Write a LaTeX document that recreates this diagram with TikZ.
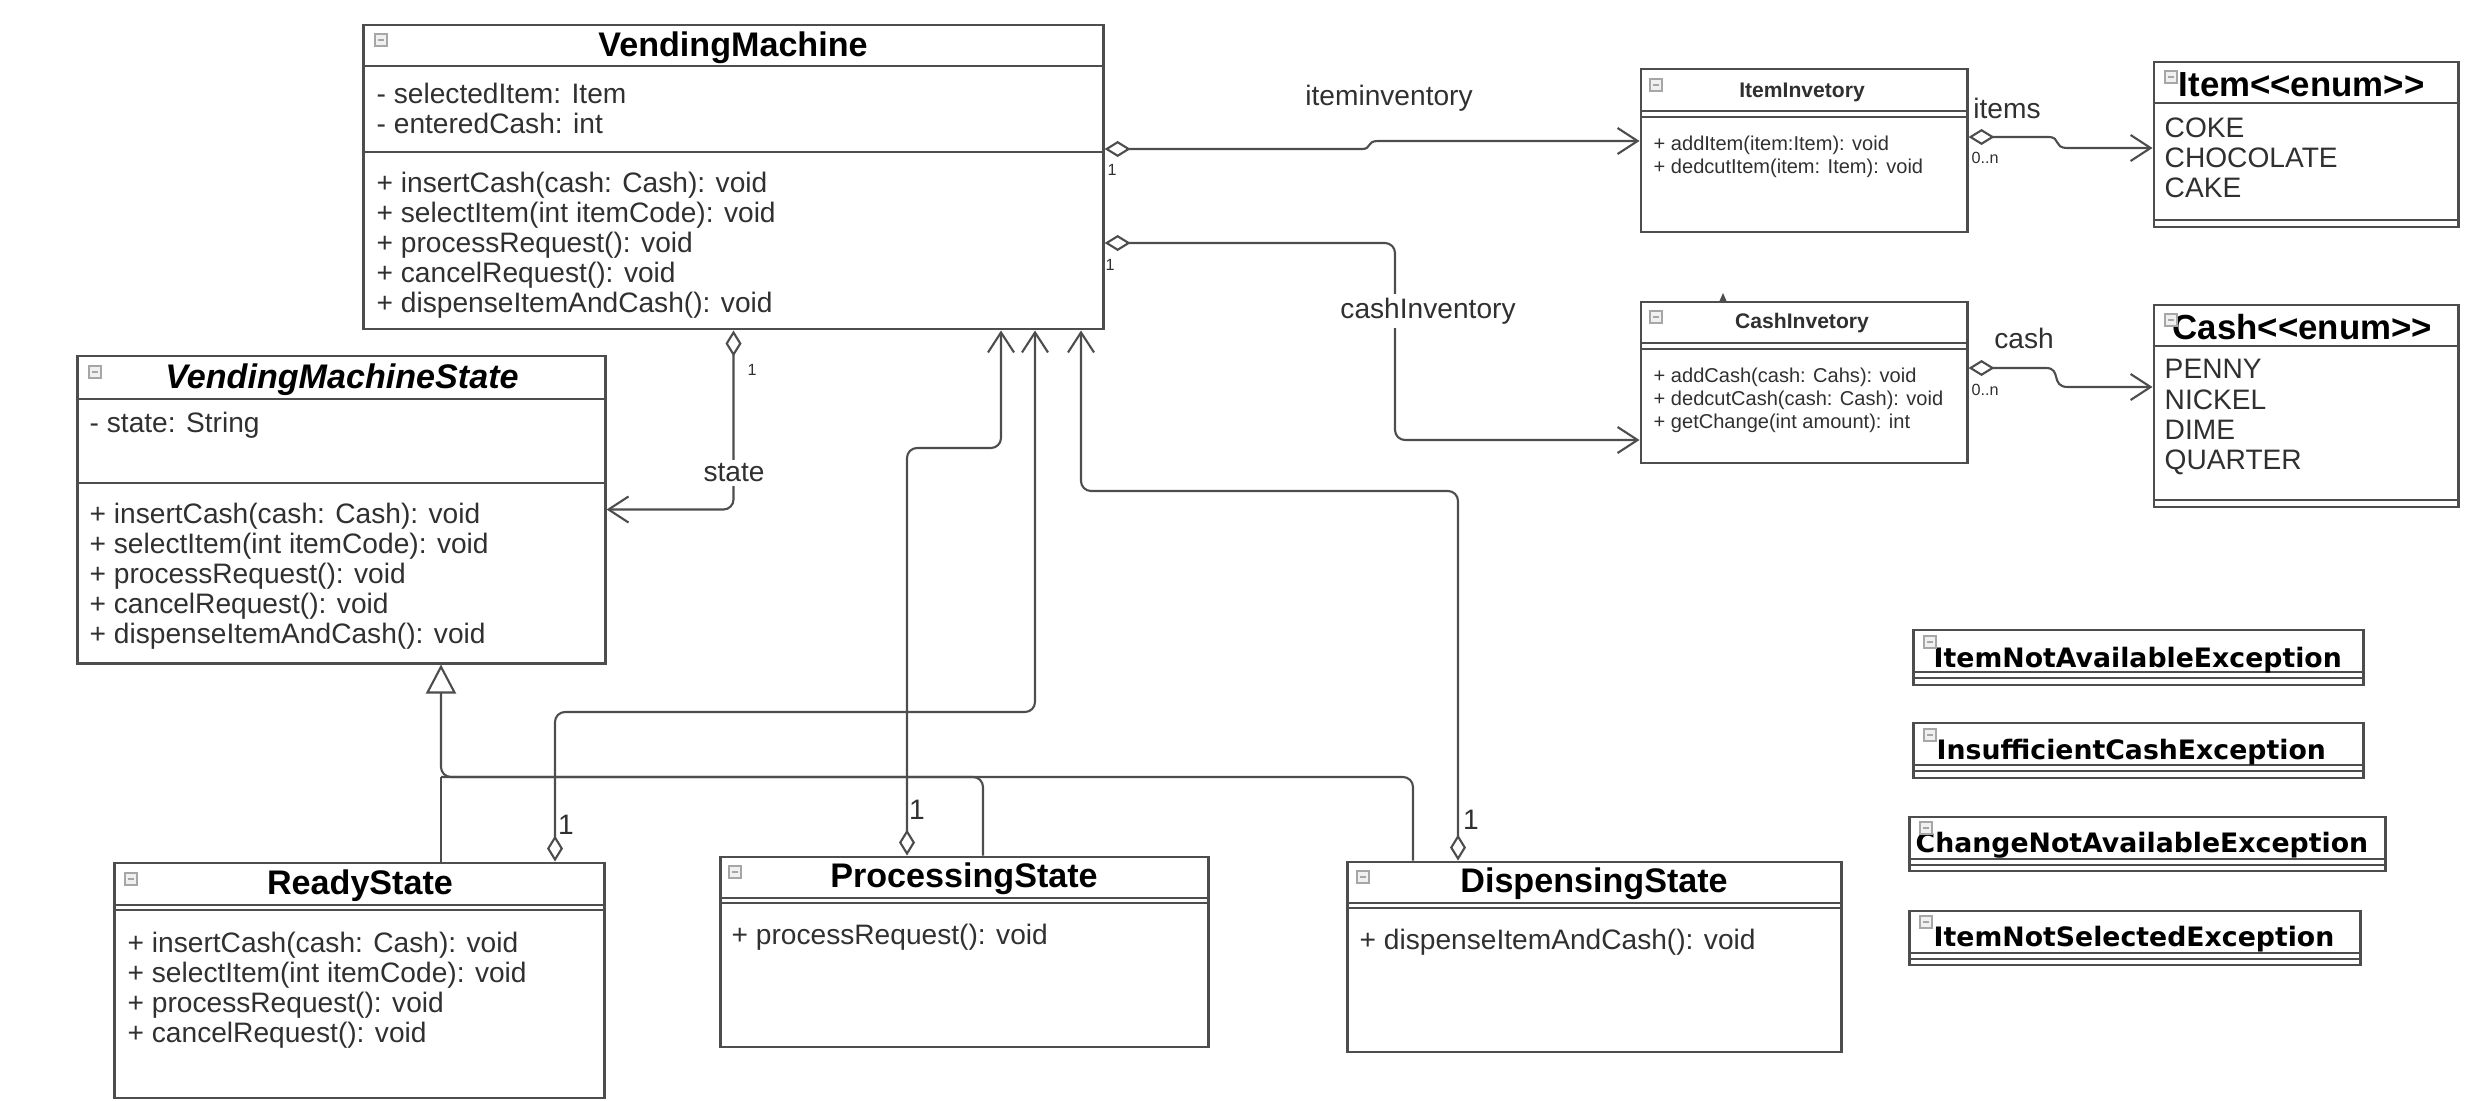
\documentclass[tikz,border=0pt]{standalone}
\usepackage{fontspec}
\setmainfont{Liberation Sans}
\newfontfamily\excfont{DejaVu Sans}
\usetikzlibrary{arrows.meta}
\definecolor{umlline}{HTML}{4D4D4D}
\definecolor{umltext}{HTML}{303030}

\begin{document}
\begin{tikzpicture}[x=0.01cm, y=-0.01cm,
  classbox/.style = {draw=umlline, line width=0.8pt, fill=white, inner sep=0pt},
  compline/.style = {draw=umlline, line width=0.7pt},
  classname/.style = {inner sep=0pt, font=\bfseries\fontsize{9.7}{11}\selectfont},
  smallname/.style = {inner sep=0pt, text=umltext, font=\bfseries\fontsize{6}{7}\selectfont},
  enumname/.style = {inner sep=0pt, anchor=west, font=\bfseries\fontsize{9.9}{11}\selectfont},
  members/.style = {anchor=west, align=left, inner sep=0pt, text=umltext,
    font=\fontsize{8}{8.54}\selectfont},
  smallmembers/.style = {members, font=\fontsize{5.7}{6.45}\selectfont},
  lbl/.style = {inner sep=1pt, text=umltext, font=\fontsize{8}{9}\selectfont},
  mult/.style = {inner sep=0pt, text=umltext, font=\fontsize{4.6}{5}\selectfont},
  bigmult/.style = {mult, font=\fontsize{8}{9}\selectfont},
  assoc/.style = {draw=umlline, line width=0.6pt, rounded corners=0.1cm},
  agg/.style = {assoc, {Diamond[open, length=0.26cm, width=0.16cm]}-{Straight Barb[length=0.2cm, width=0.26cm]}},
  gen/.style = {assoc, -{Triangle[open, length=0.29cm, width=0.3cm, fill=white]}},
  collapsebox/.style = {draw=gray!70, fill=gray!12, line width=0.4pt, minimum size=0.12cm,
    inner sep=0pt, path picture={\draw[gray!70, line width=0.5pt]
      ([xshift=0.03cm]path picture bounding box.west) -- ([xshift=-0.03cm]path picture bounding box.east);}},
  excname/.style = {inner sep=0pt, anchor=base west, font=\excfont\bfseries\fontsize{7.6}{8}\selectfont}]
  \useasboundingbox (0,0) rectangle (2482,1100);

  % VendingMachine
  \node[classbox, minimum width=7.39cm, minimum height=3.04cm] (vm) at (733.5,177) {};
  \draw[compline] (vm.west |- 0,66) -- (vm.east |- 0,66);
  \draw[compline] (vm.west |- 0,152) -- (vm.east |- 0,152);
  \node[collapsebox] (vm-icon) at (381,40) {};
  \node[classname] (vm-name) at (733,48) {VendingMachine};
  \node[members] (vm-attr) at (376,108) {- selectedItem: Item\\- enteredCash: int};
  \node[members] (vm-ops) at (376,245) {+ insertCash(cash: Cash): void\\+ selectItem(int itemCode): void\\+ processRequest(): void\\+ cancelRequest(): void\\+ dispenseItemAndCash(): void};

  % VendingMachineState
  \node[classbox, minimum width=5.27cm, minimum height=3.07cm] (vms) at (341.5,509.5) {};
  \draw[compline] (vms.west |- 0,399) -- (vms.east |- 0,399);
  \draw[compline] (vms.west |- 0,483) -- (vms.east |- 0,483);
  \node[collapsebox] (vms-icon) at (95,372) {};
  \node[classname, font=\bfseries\itshape\fontsize{9.7}{11}\selectfont] (vms-name) at (342,380) {VendingMachineState};
  \node[members] (vms-attr) at (89,425) {- state: String};
  \node[members] (vms-ops) at (89,576) {+ insertCash(cash: Cash): void\\+ selectItem(int itemCode): void\\+ processRequest(): void\\+ cancelRequest(): void\\+ dispenseItemAndCash(): void};

  % ReadyState
  \node[classbox, minimum width=4.89cm, minimum height=2.35cm] (ready) at (359.5,980.5) {};
  \draw[compline] (ready.west |- 0,905) -- (ready.east |- 0,905);
  \draw[compline] (ready.west |- 0,910) -- (ready.east |- 0,910);
  \node[collapsebox] (ready-icon) at (131,879) {};
  \node[classname] (ready-name) at (360,886) {ReadyState};
  \node[members] (ready-ops) at (127,990) {+ insertCash(cash: Cash): void\\+ selectItem(int itemCode): void\\+ processRequest(): void\\+ cancelRequest(): void};

  % ProcessingState
  \node[classbox, minimum width=4.87cm, minimum height=1.90cm] (proc) at (964.5,952) {};
  \draw[compline] (proc.west |- 0,898) -- (proc.east |- 0,898);
  \draw[compline] (proc.west |- 0,903) -- (proc.east |- 0,903);
  \node[collapsebox] (proc-icon) at (735,872) {};
  \node[classname] (proc-name) at (964,879) {ProcessingState};
  \node[members] (proc-ops) at (731,937) {+ processRequest(): void};

  % DispensingState
  \node[classbox, minimum width=4.93cm, minimum height=1.90cm] (disp) at (1594.5,957) {};
  \draw[compline] (disp.west |- 0,903) -- (disp.east |- 0,903);
  \draw[compline] (disp.west |- 0,908) -- (disp.east |- 0,908);
  \node[collapsebox] (disp-icon) at (1363,877) {};
  \node[classname] (disp-name) at (1594,884) {DispensingState};
  \node[members] (disp-ops) at (1359,942) {+ dispenseItemAndCash(): void};

  % inventories
  \node[classbox, minimum width=3.26cm, minimum height=1.63cm] (iinv) at (1804,150.5) {};
  \draw[compline] (iinv.west |- 0,111) -- (iinv.east |- 0,111);
  \draw[compline] (iinv.west |- 0,117) -- (iinv.east |- 0,117);
  \node[collapsebox] (iinv-icon) at (1656,85) {};
  \node[smallname] (iinv-name) at (1802,92) {ItemInvetory};
  \node[smallmembers] (iinv-ops) at (1653,157) {+ addItem(item:Item): void\\+ dedcutItem(item: Item): void};

  \node[classbox, minimum width=3.26cm, minimum height=1.61cm] (cinv) at (1804,382.5) {};
  \draw[compline] (cinv.west |- 0,343) -- (cinv.east |- 0,343);
  \draw[compline] (cinv.west |- 0,349) -- (cinv.east |- 0,349);
  \node[collapsebox] (cinv-icon) at (1656,317) {};
  \node[smallname] (cinv-name) at (1802,323) {CashInvetory};
  \node[smallmembers, font=\fontsize{5.7}{6.55}\selectfont] (cinv-ops) at (1653,400) {+ addCash(cash: Cahs): void\\+ dedcutCash(cash: Cash): void\\+ getChange(int amount): int};
  \fill[umlline] (1719,302) -- (1723,293) -- (1727,302) -- cycle;

  % enums
  \node[classbox, minimum width=3.04cm, minimum height=1.65cm] (itemenum) at (2306,144.5) {};
  \draw[compline] (itemenum.west |- 0,103) -- (itemenum.east |- 0,103);
  \draw[compline] (itemenum.west |- 0,220) -- (itemenum.east |- 0,220);
  \node[enumname] (itemenum-name) at (2178,85) {Item<\kern0pt<enum>\kern0pt>};
  \node[collapsebox] (itemenum-icon) at (2171,77) {};
  \node[members] (itemenum-vals) at (2164,158) {COKE\\CHOCOLATE\\CAKE};

  \node[classbox, minimum width=3.04cm, minimum height=2.02cm] (cashenum) at (2306,406) {};
  \draw[compline] (cashenum.west |- 0,346) -- (cashenum.east |- 0,346);
  \draw[compline] (cashenum.west |- 0,500) -- (cashenum.east |- 0,500);
  \node[enumname] (cashenum-name) at (2172,327) {Cash<\kern0pt<enum>\kern0pt>};
  \node[collapsebox] (cashenum-icon) at (2171,320) {};
  \node[members] (cashenum-vals) at (2164,417) {PENNY\\NICKEL\\DIME\\QUARTER};

  % exceptions
  \node[classbox, minimum width=4.49cm, minimum height=0.55cm] (exc1) at (2138.5,657.5) {};
  \draw[compline] (exc1.west |- 0,672) -- (exc1.east |- 0,672);
  \draw[compline] (exc1.west |- 0,678) -- (exc1.east |- 0,678);
  \node[excname] (exc1-name) at (1933,667) {ItemNotAvailableException};
  \node[collapsebox] (exc1-icon) at (1930,642) {};

  \node[classbox, minimum width=4.49cm, minimum height=0.55cm] (exc2) at (2138.5,750.5) {};
  \draw[compline] (exc2.west |- 0,765) -- (exc2.east |- 0,765);
  \draw[compline] (exc2.west |- 0,771) -- (exc2.east |- 0,771);
  \node[excname] (exc2-name) at (1936,759) {InsufficientCashException};
  \node[collapsebox] (exc2-icon) at (1930,735) {};

  \node[classbox, minimum width=4.75cm, minimum height=0.54cm] (exc3) at (2147.5,844) {};
  \draw[compline] (exc3.west |- 0,859) -- (exc3.east |- 0,859);
  \draw[compline] (exc3.west |- 0,865) -- (exc3.east |- 0,865);
  \node[excname] (exc3-name) at (1915,852) {ChangeNotAvailableException};
  \node[collapsebox] (exc3-icon) at (1926,828) {};

  \node[classbox, minimum width=4.50cm, minimum height=0.54cm] (exc4) at (2135,938) {};
  \draw[compline] (exc4.west |- 0,953) -- (exc4.east |- 0,953);
  \draw[compline] (exc4.west |- 0,959) -- (exc4.east |- 0,959);
  \node[excname] (exc4-name) at (1933,946) {ItemNotSelectedException};
  \node[collapsebox] (exc4-icon) at (1926,922) {};

  % associations
  \draw[agg, sharp corners] (vm.east |- 0,149) -- (1362,149) .. controls (1372,149) and (1366,141) .. (1378,141) -- (iinv.west |- 0,141);
  \draw[agg] (vm.east |- 0,243) -| (1395,440) -- (cinv.west |- 0,440);
  \draw[agg] (vm.south) |- (vms.east);
  \draw[agg, sharp corners] (iinv.east |- 0,137) -- (2048,137) .. controls (2062,137) and (2052,148) .. (2068,148) -- (itemenum.west |- 0,148);
  \draw[agg, sharp corners] (cinv.east |- 0,368) -- (2046,368) .. controls (2062,368) and (2050,387) .. (2068,387) -- (cashenum.west |- 0,387);
  \draw[agg] (ready.north -| 555,0) |- (1035,712) -- (vm.south -| 1035,0);
  \draw[agg] (proc.north -| 907,0) |- (1001,448) -- (vm.south -| 1001,0);
  \draw[agg] (disp.north -| 1458,0) |- (1081,491) -- (vm.south -| 1081,0);

  % generalization
  \draw[gen] (disp.north -| 1413,0) |- (441,777) -- (vms.south -| 441,0);
  \draw[assoc] (proc.north -| 983,0) |- (441,777);
  \draw[assoc] (ready.north -| 441,0) -- (441,777);

  % labels
  \node[lbl] (iinv-lbl) at (1389,98) {iteminventory};
  \node[lbl, fill=white] (cinv-lbl) at (1428,311) {cashInventory};
  \node[lbl, fill=white] (state-lbl) at (734,473) {state};
  \node[lbl] (items-lbl) at (2007,108) {items};
  \node[lbl] (cash-lbl) at (2024,338) {cash};
  \node[mult] (m-iinv) at (1112,170) {1};
  \node[mult] (m-cinv) at (1110,265) {1};
  \node[mult] (m-state) at (752,370) {1};
  \node[mult] (m-items) at (1985,158) {0..n};
  \node[mult] (m-cash) at (1985,390) {0..n};
  \node[bigmult] (m-ready) at (566,825) {1};
  \node[bigmult] (m-proc) at (917,810) {1};
  \node[bigmult] (m-disp) at (1471,820) {1};
\end{tikzpicture}
\end{document}
